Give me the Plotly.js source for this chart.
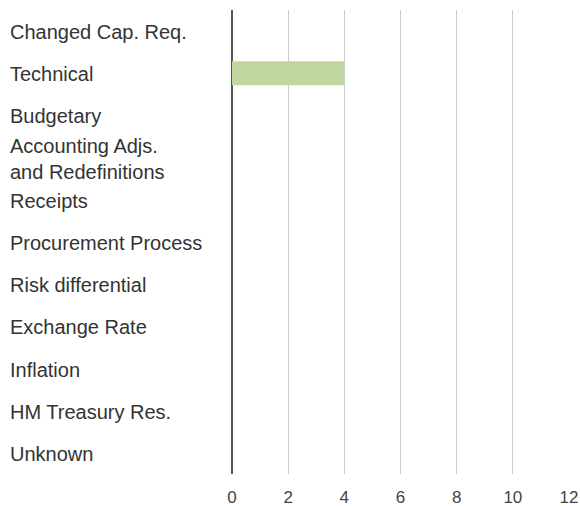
<!DOCTYPE html>
<html><head><meta charset="utf-8">
<script src="https://cdn.plot.ly/plotly-3.0.1.min.js"></script>
<style>html,body{margin:0;padding:0;background:#fff}</style>
</head><body><div id="chart" style="width:580px;height:506px"></div>
<script>
var categories = ["Changed Cap. Req.", "Technical", "Budgetary", "Accounting Adjs. and Redefinitions", "Receipts", "Procurement Process", "Risk differential", "Exchange Rate", "Inflation", "HM Treasury Res.", "Unknown"];
var categoryLabels = ["Changed Cap. Req.", "Technical", "Budgetary", "Accounting Adjs.<br>and Redefinitions", "Receipts", "Procurement Process", "Risk differential", "Exchange Rate", "Inflation", "HM Treasury Res.", "Unknown"];
var values = [0, 4, 0, 0, 0, 0, 0, 0, 0, 0, 0];
var xTicks = [0, 2, 4, 6, 8, 10, 12];

var fontFam = "Liberation Sans, Arial, sans-serif";
var annotations = categories.map(function(c, i){
  return {x: -0.665, xref: 'paper', y: c, yref: 'y', text: categoryLabels[i], showarrow: false,
    xanchor: 'left', yanchor: 'middle', align: 'left', yshift: -1,
    font: {family: fontFam, size: 20, color: '#333333'}};
});

Plotly.newPlot('chart', [{
  type: 'bar', orientation: 'h', y: categories, x: values,
  marker: {color: '#c0d6a0'}, hoverinfo: 'none'
}], {
  width: 580, height: 506,
  margin: {l: 232, r: 11, t: 10, b: 32},
  bargap: 0.43,
  showlegend: false,
  paper_bgcolor: '#fff', plot_bgcolor: '#fff',
  xaxis: {range: [0, 12], tickvals: xTicks, showgrid: true, gridcolor: '#cccccc', gridwidth: 1,
    zeroline: true, zerolinecolor: '#555555', zerolinewidth: 1.5, showline: false,
    ticks: '', ticklabelstandoff: 11,
    tickfont: {family: fontFam, size: 17, color: '#444'}},
  yaxis: {type: 'category', autorange: 'reversed', showticklabels: false, showgrid: false, zeroline: false, showline: false, ticks: ''},
  annotations: annotations
}, {staticPlot: true});
</script></body></html>
